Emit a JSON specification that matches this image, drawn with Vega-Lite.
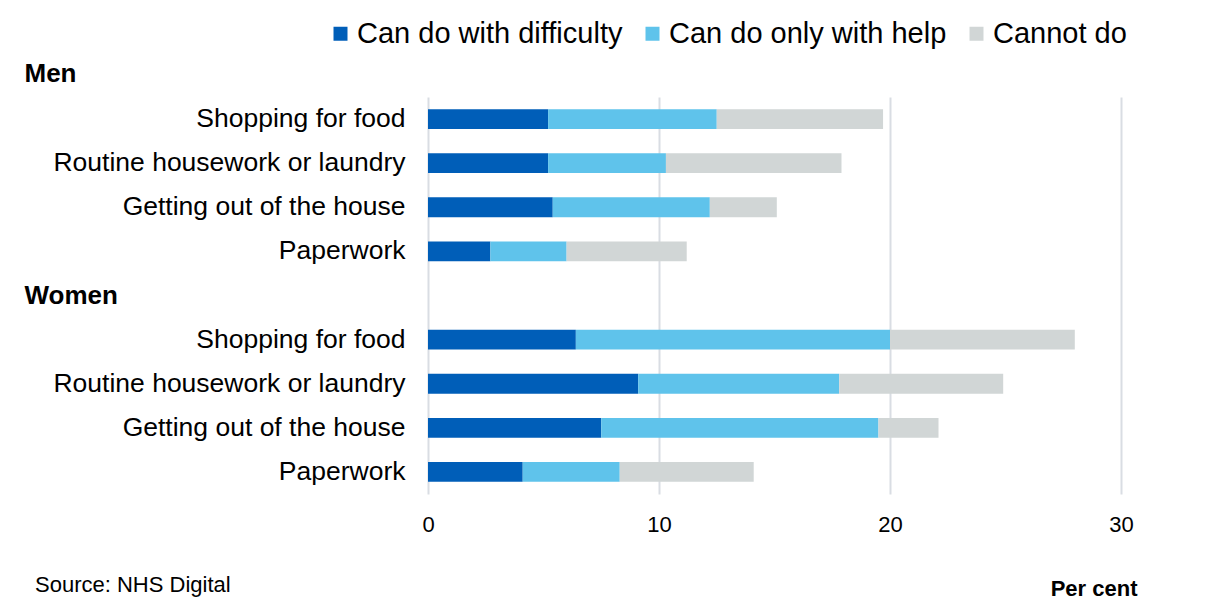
{
  "$schema": "https://vega.github.io/schema/vega-lite/v6.json",
  "width": 693,
  "height": 397,
  "autosize": {"type": "none"},
  "padding": {"left": 428, "top": 97, "right": 92, "bottom": 120},
  "background": "white",
  "config": {"view": {"stroke": null}, "font": "Liberation Sans"},
  "title": {"text": "Source: NHS Digital", "orient": "bottom", "anchor": "start", "frame": "bounds", "fontSize": 22, "fontWeight": "normal", "color": "#000000", "dx": 11, "dy": -28},
  "data": {"values": [
    {"row": "Men|Shopping for food", "level": "Can do with difficulty", "seg": 1, "value": 5.2},
    {"row": "Men|Shopping for food", "level": "Can do only with help", "seg": 2, "value": 7.3},
    {"row": "Men|Shopping for food", "level": "Cannot do", "seg": 3, "value": 7.2},
    {"row": "Men|Routine housework or laundry", "level": "Can do with difficulty", "seg": 1, "value": 5.2},
    {"row": "Men|Routine housework or laundry", "level": "Can do only with help", "seg": 2, "value": 5.1},
    {"row": "Men|Routine housework or laundry", "level": "Cannot do", "seg": 3, "value": 7.6},
    {"row": "Men|Getting out of the house", "level": "Can do with difficulty", "seg": 1, "value": 5.4},
    {"row": "Men|Getting out of the house", "level": "Can do only with help", "seg": 2, "value": 6.8},
    {"row": "Men|Getting out of the house", "level": "Cannot do", "seg": 3, "value": 2.9},
    {"row": "Men|Paperwork", "level": "Can do with difficulty", "seg": 1, "value": 2.7},
    {"row": "Men|Paperwork", "level": "Can do only with help", "seg": 2, "value": 3.3},
    {"row": "Men|Paperwork", "level": "Cannot do", "seg": 3, "value": 5.2},
    {"row": "Women|Shopping for food", "level": "Can do with difficulty", "seg": 1, "value": 6.4},
    {"row": "Women|Shopping for food", "level": "Can do only with help", "seg": 2, "value": 13.6},
    {"row": "Women|Shopping for food", "level": "Cannot do", "seg": 3, "value": 8.0},
    {"row": "Women|Routine housework or laundry", "level": "Can do with difficulty", "seg": 1, "value": 9.1},
    {"row": "Women|Routine housework or laundry", "level": "Can do only with help", "seg": 2, "value": 8.7},
    {"row": "Women|Routine housework or laundry", "level": "Cannot do", "seg": 3, "value": 7.1},
    {"row": "Women|Getting out of the house", "level": "Can do with difficulty", "seg": 1, "value": 7.5},
    {"row": "Women|Getting out of the house", "level": "Can do only with help", "seg": 2, "value": 12.0},
    {"row": "Women|Getting out of the house", "level": "Cannot do", "seg": 3, "value": 2.6},
    {"row": "Women|Paperwork", "level": "Can do with difficulty", "seg": 1, "value": 4.1},
    {"row": "Women|Paperwork", "level": "Can do only with help", "seg": 2, "value": 4.2},
    {"row": "Women|Paperwork", "level": "Cannot do", "seg": 3, "value": 5.8}
  ]},
  "mark": {"type": "bar"},
  "encoding": {
    "y": {
      "field": "row",
      "type": "nominal",
      "scale": {
        "domain": ["Men|Shopping for food", "Men|Routine housework or laundry", "Men|Getting out of the house", "Men|Paperwork", "Women", "Women|Shopping for food", "Women|Routine housework or laundry", "Women|Getting out of the house", "Women|Paperwork"],
        "paddingInner": 0.55,
        "paddingOuter": 0.275
      },
      "axis": {
        "title": "Men",
        "titleAngle": 0,
        "titleAlign": "left",
        "titleBaseline": "middle",
        "titleX": -404,
        "titleY": -24,
        "titleFontSize": 26,
        "titleFontWeight": "bold",
        "titleColor": "#000000",
        "domain": false,
        "ticks": false,
        "tickSize": 0,
        "grid": false,
        "labelLimit": 600,
        "labelColor": "#000000",
        "labelExpr": "datum.value == 'Women' ? 'Women' : split(datum.value, '|')[1]",
        "labelAlign": {"condition": {"test": "datum.value == 'Women'", "value": "left"}, "value": "right"},
        "labelPadding": {"condition": {"test": "datum.value == 'Women'", "value": 404}, "value": 23},
        "labelFontWeight": {"condition": {"test": "datum.value == 'Women'", "value": "bold"}, "value": "normal"},
        "labelFontSize": {"condition": {"test": "datum.value == 'Women'", "value": 26}, "value": 26.5}
      }
    },
    "x": {
      "field": "value",
      "type": "quantitative",
      "stack": "zero",
      "scale": {"domain": [0, 30], "nice": false},
      "axis": {
        "values": [0, 10, 20, 30],
        "title": "Per cent",
        "titleAlign": "right",
        "titleX": 709,
        "titleY": 94,
        "titleBaseline": "middle",
        "titleFontSize": 22,
        "titleFontWeight": "bold",
        "titleColor": "#000000",
        "domain": false,
        "ticks": false,
        "tickSize": 0,
        "labelPadding": 20,
        "labelFontSize": 22,
        "labelColor": "#000000",
        "labelFlush": false,
        "grid": true,
        "gridColor": "#D9DDE3",
        "gridWidth": 2
      }
    },
    "color": {
      "field": "level",
      "type": "nominal",
      "scale": {
        "domain": ["Can do with difficulty", "Can do only with help", "Cannot do"],
        "range": ["#005EB8", "#5FC3EB", "#D1D6D6"]
      },
      "legend": {
        "orient": "none",
        "legendX": -102,
        "legendY": -78,
        "direction": "horizontal",
        "title": null,
        "symbolType": "square",
        "symbolSize": 196,
        "symbolStrokeWidth": 0,
        "labelFontSize": 29,
        "labelColor": "#000000",
        "labelLimit": 600,
        "labelOffset": 2,
        "columnPadding": 15
      }
    },
    "order": {"field": "seg", "type": "quantitative"}
  }
}
